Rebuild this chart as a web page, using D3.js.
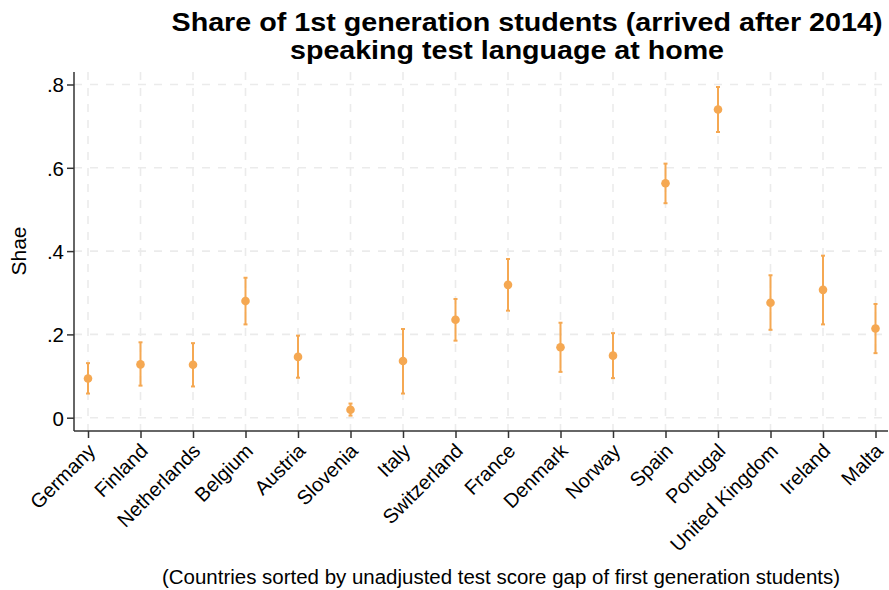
<!DOCTYPE html>
<html><head><meta charset="utf-8">
<script src="https://cdn.jsdelivr.net/npm/d3@7"></script>
<style>body{margin:0;background:#fff}svg{display:block;font-family:"Liberation Sans",Arial,sans-serif}</style>
</head><body><svg id="c" width="889" height="590"></svg>
<script>
const countries = ["Germany","Finland","Netherlands","Belgium","Austria","Slovenia","Italy","Switzerland","France","Denmark","Norway","Spain","Portugal","United Kingdom","Ireland","Malta"];
const share = [0.094,0.128,0.127,0.280,0.146,0.019,0.136,0.235,0.319,0.169,0.149,0.563,0.740,0.276,0.307,0.214];
const lower = [0.058,0.077,0.075,0.224,0.096,0.005,0.058,0.185,0.257,0.110,0.095,0.515,0.686,0.211,0.224,0.155];
const upper = [0.131,0.181,0.179,0.336,0.197,0.034,0.213,0.285,0.381,0.228,0.203,0.610,0.794,0.342,0.389,0.273];
const yTicks = [0,0.2,0.4,0.6,0.8];
const yTickLabels = ["0",".2",".4",".6",".8"];

const svg = d3.select("#c");
const L = 74, R = 888, T = 72, B = 431;
const x = d3.scalePoint().domain(countries).range([88, 875.5]);
const y = d3.scaleLinear().domain([0, 0.8]).range([417.7, 84.5]);
const orange = "#f5a852";
const grid = "#ebebeb";

// gridlines
svg.append("g").selectAll("line").data(yTicks).join("line")
  .attr("x1", L).attr("x2", R).attr("y1", d => y(d)).attr("y2", d => y(d))
  .attr("stroke", grid).attr("stroke-width", 1.6).attr("stroke-dasharray", "8,8");
svg.append("g").selectAll("line").data(countries).join("line")
  .attr("x1", d => x(d)).attr("x2", d => x(d)).attr("y1", T).attr("y2", B)
  .attr("stroke", grid).attr("stroke-width", 1.6).attr("stroke-dasharray", "8,8");

// axes
const yAxis = svg.append("g").attr("transform", `translate(${L},0)`)
  .call(d3.axisLeft(y).tickValues(yTicks).tickFormat((d,i) => yTickLabels[i]).tickSize(7).tickPadding(3));
yAxis.select(".domain").attr("d", `M0,${T}V${B}`);
const xAxis = svg.append("g").attr("transform", `translate(0,${B})`)
  .call(d3.axisBottom(x).tickSize(7).tickPadding(6));
xAxis.select(".domain").attr("d", `M${L},0H${R}`);
[yAxis, xAxis].forEach(a => {
  a.select(".domain").attr("stroke", "#333").attr("stroke-width", 1.5);
  a.selectAll(".tick line").attr("stroke", "#333").attr("stroke-width", 1.5);
  a.selectAll("text").attr("fill", "#000").attr("font-family", "Liberation Sans, Arial, sans-serif");
});
yAxis.selectAll("text").attr("font-size", 20.5).attr("dy", "0.36em");
xAxis.selectAll("text").attr("font-size", 20)
  .attr("text-anchor", "end").attr("y", 0).attr("dy", "0.72em")
  .attr("transform", "translate(-2,11) rotate(-45)");

// error bars
const eb = svg.append("g").attr("stroke", orange).attr("stroke-width", 2);
countries.forEach((c, i) => {
  const cx = x(c);
  eb.append("line").attr("x1", cx).attr("x2", cx).attr("y1", y(lower[i])).attr("y2", y(upper[i]));
  eb.append("line").attr("x1", cx-2).attr("x2", cx+2).attr("y1", y(lower[i])).attr("y2", y(lower[i]));
  eb.append("line").attr("x1", cx-2).attr("x2", cx+2).attr("y1", y(upper[i])).attr("y2", y(upper[i]));
});
svg.append("g").selectAll("circle").data(countries).join("circle")
  .attr("cx", d => x(d)).attr("cy", (d,i) => y(share[i])).attr("r", 4.3).attr("fill", orange);

// titles
svg.append("text").attr("x", 527).attr("y", 31).attr("text-anchor", "middle")
  .attr("font-size", 25.5).attr("font-weight", "bold")
  .attr("textLength", 711).attr("lengthAdjust", "spacingAndGlyphs")
  .text("Share of 1st generation students (arrived after 2014)");
svg.append("text").attr("x", 507).attr("y", 59).attr("text-anchor", "middle")
  .attr("font-size", 25.5).attr("font-weight", "bold")
  .attr("textLength", 434).attr("lengthAdjust", "spacingAndGlyphs")
  .text("speaking test language at home");
svg.append("text").attr("transform", "translate(26,251) rotate(-90)").attr("text-anchor", "middle")
  .attr("font-size", 21).text("Shae");
svg.append("text").attr("x", 501).attr("y", 584).attr("text-anchor", "middle")
  .attr("font-size", 20).attr("textLength", 678).attr("lengthAdjust", "spacingAndGlyphs")
  .text("(Countries sorted by unadjusted test score gap of first generation students)");
</script></body></html>
